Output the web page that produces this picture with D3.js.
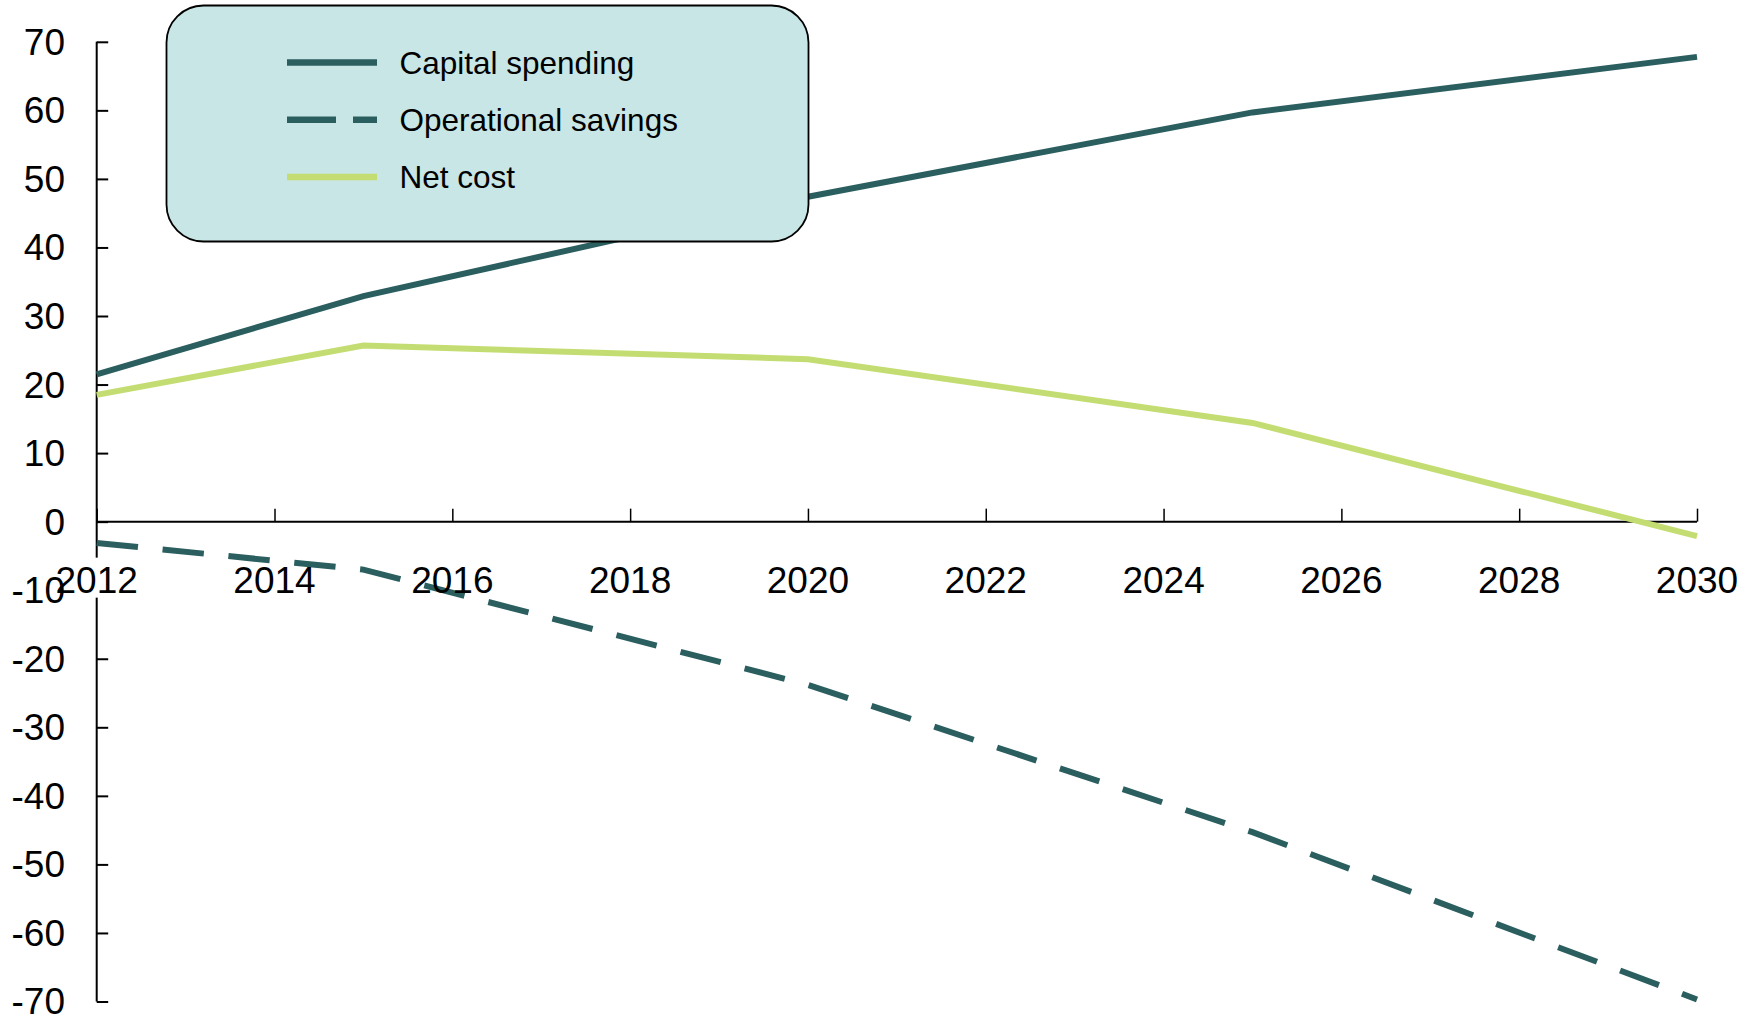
<!DOCTYPE html>
<html>
<head>
<meta charset="utf-8">
<script src="https://cdn.jsdelivr.net/npm/d3@7"></script>
<style>
  body { margin: 0; background: #fff; }
  svg { display: block; font-family: "Liberation Sans", Arial, sans-serif; }
</style>
</head>
<body>
<div id="chart"></div>
<script>
// données
const years = [2012, 2015, 2020, 2025, 2030];
const capitalSpending = [21.5, 32.9, 47.4, 59.7, 67.8];
const operationalSavings = [-3.1, -7.0, -23.8, -45.3, -69.7];
const netCost = [18.5, 25.7, 23.7, 14.4, -2.1];

const xTicks = [2012, 2014, 2016, 2018, 2020, 2022, 2024, 2026, 2028, 2030];
const yTicks = [70, 60, 50, 40, 30, 20, 10, 0, -10, -20, -30, -40, -50, -60, -70];

const seriesNames = ["Capital spending", "Operational savings", "Net cost"];
const seriesColors = ["#2b5e5f", "#2b5e5f", "#c4dd72"];

//---------------------------------------------------------------------------------------

const width = 1743;
const height = 1020;

const svg = d3.select("#chart")
  .append("svg")
  .attr("width", width)
  .attr("height", height);

const x = d3.scaleLinear().domain([2012, 2030]).range([96.7, 1697]);
const y = d3.scaleLinear().domain([-70, 70]).range([1001.5, 41.8]);

// axe vertical
const yAxis = svg.append("g")
  .attr("transform", `translate(${x(2012)},0)`)
  .call(d3.axisRight(y).tickValues(yTicks).tickSize(11.5).tickFormat(""));
yAxis.select(".domain").attr("stroke", "#000").attr("stroke-width", 2).attr("d", `M0,${y(70)}V${y(-70)}`);
yAxis.selectAll(".tick line").attr("stroke", "#000").attr("stroke-width", 2);

// axe horizontal sur la ligne zéro, graduations vers le haut
const xAxis = svg.append("g")
  .attr("transform", `translate(0,${y(0)})`)
  .call(d3.axisTop(x).tickValues(xTicks).tickSize(13).tickFormat(""));
xAxis.select(".domain").attr("stroke", "#000").attr("stroke-width", 2).attr("d", `M${x(2012)},0H${x(2030)}`);
xAxis.selectAll(".tick line").attr("stroke", "#000").attr("stroke-width", 1.5);

// fonds blancs des étiquettes d'années
const labelY = y(0) + 71;
svg.append("g")
  .selectAll("rect")
  .data(xTicks)
  .join("rect")
  .attr("x", d => x(d) - 44)
  .attr("y", labelY - 35)
  .attr("width", 88)
  .attr("height", 40)
  .attr("fill", "#fff");

//---------------------------------------------------------------------------------------

// courbes
const series = [capitalSpending, operationalSavings, netCost];
const line = d3.line()
  .x((d, i) => x(years[i]))
  .y(d => y(d));

const paths = svg.append("g")
  .selectAll("path")
  .data(series)
  .join("path")
  .attr("d", d => line(d))
  .attr("fill", "none")
  .attr("stroke", (d, i) => seriesColors[i])
  .attr("stroke-width", 6);

// tirets : motif 42/25 ajusté pour finir sur un bout de tiret en 2030
paths.filter((d, i) => i === 1).each(function () {
  const len = this.getTotalLength();
  const n = Math.round((len - 16) / 67);
  const k = (len - 16) / (n * 67);
  d3.select(this).attr("stroke-dasharray", `${42 * k},${25 * k}`);
});

//---------------------------------------------------------------------------------------

// étiquettes des axes
svg.append("g")
  .selectAll("text")
  .data(xTicks)
  .join("text")
  .attr("x", d => x(d))
  .attr("y", labelY)
  .attr("text-anchor", "middle")
  .attr("font-size", "37px")
  .attr("fill", "#000")
  .text(d => d);

svg.append("g")
  .selectAll("text")
  .data(yTicks)
  .join("text")
  .attr("x", 65)
  .attr("y", d => y(d))
  .attr("dy", "0.35em")
  .attr("text-anchor", "end")
  .attr("font-size", "37px")
  .attr("fill", "#000")
  .text(d => d);

//---------------------------------------------------------------------------------------

// légende
const legend = svg.append("g");

legend.append("rect")
  .attr("x", 166.5)
  .attr("y", 5.5)
  .attr("width", 642)
  .attr("height", 236)
  .attr("rx", 37)
  .attr("ry", 37)
  .attr("fill", "#c8e6e5")
  .attr("stroke", "#000")
  .attr("stroke-width", 1.8);

const legItems = legend.selectAll("g.leg")
  .data(seriesNames)
  .join("g")
  .attr("class", "leg")
  .attr("transform", (d, i) => `translate(0, ${62.5 + i * 57.2})`);

legItems.append("line")
  .attr("x1", 287)
  .attr("x2", 377)
  .attr("stroke", (d, i) => seriesColors[i])
  .attr("stroke-width", 6.5)
  .attr("stroke-dasharray", (d, i) => i === 1 ? "49,17" : null);

legItems.append("text")
  .attr("x", 399.5)
  .attr("dy", "0.35em")
  .attr("font-size", "31.5px")
  .attr("fill", "#000")
  .text(d => d);
</script>
</body>
</html>
